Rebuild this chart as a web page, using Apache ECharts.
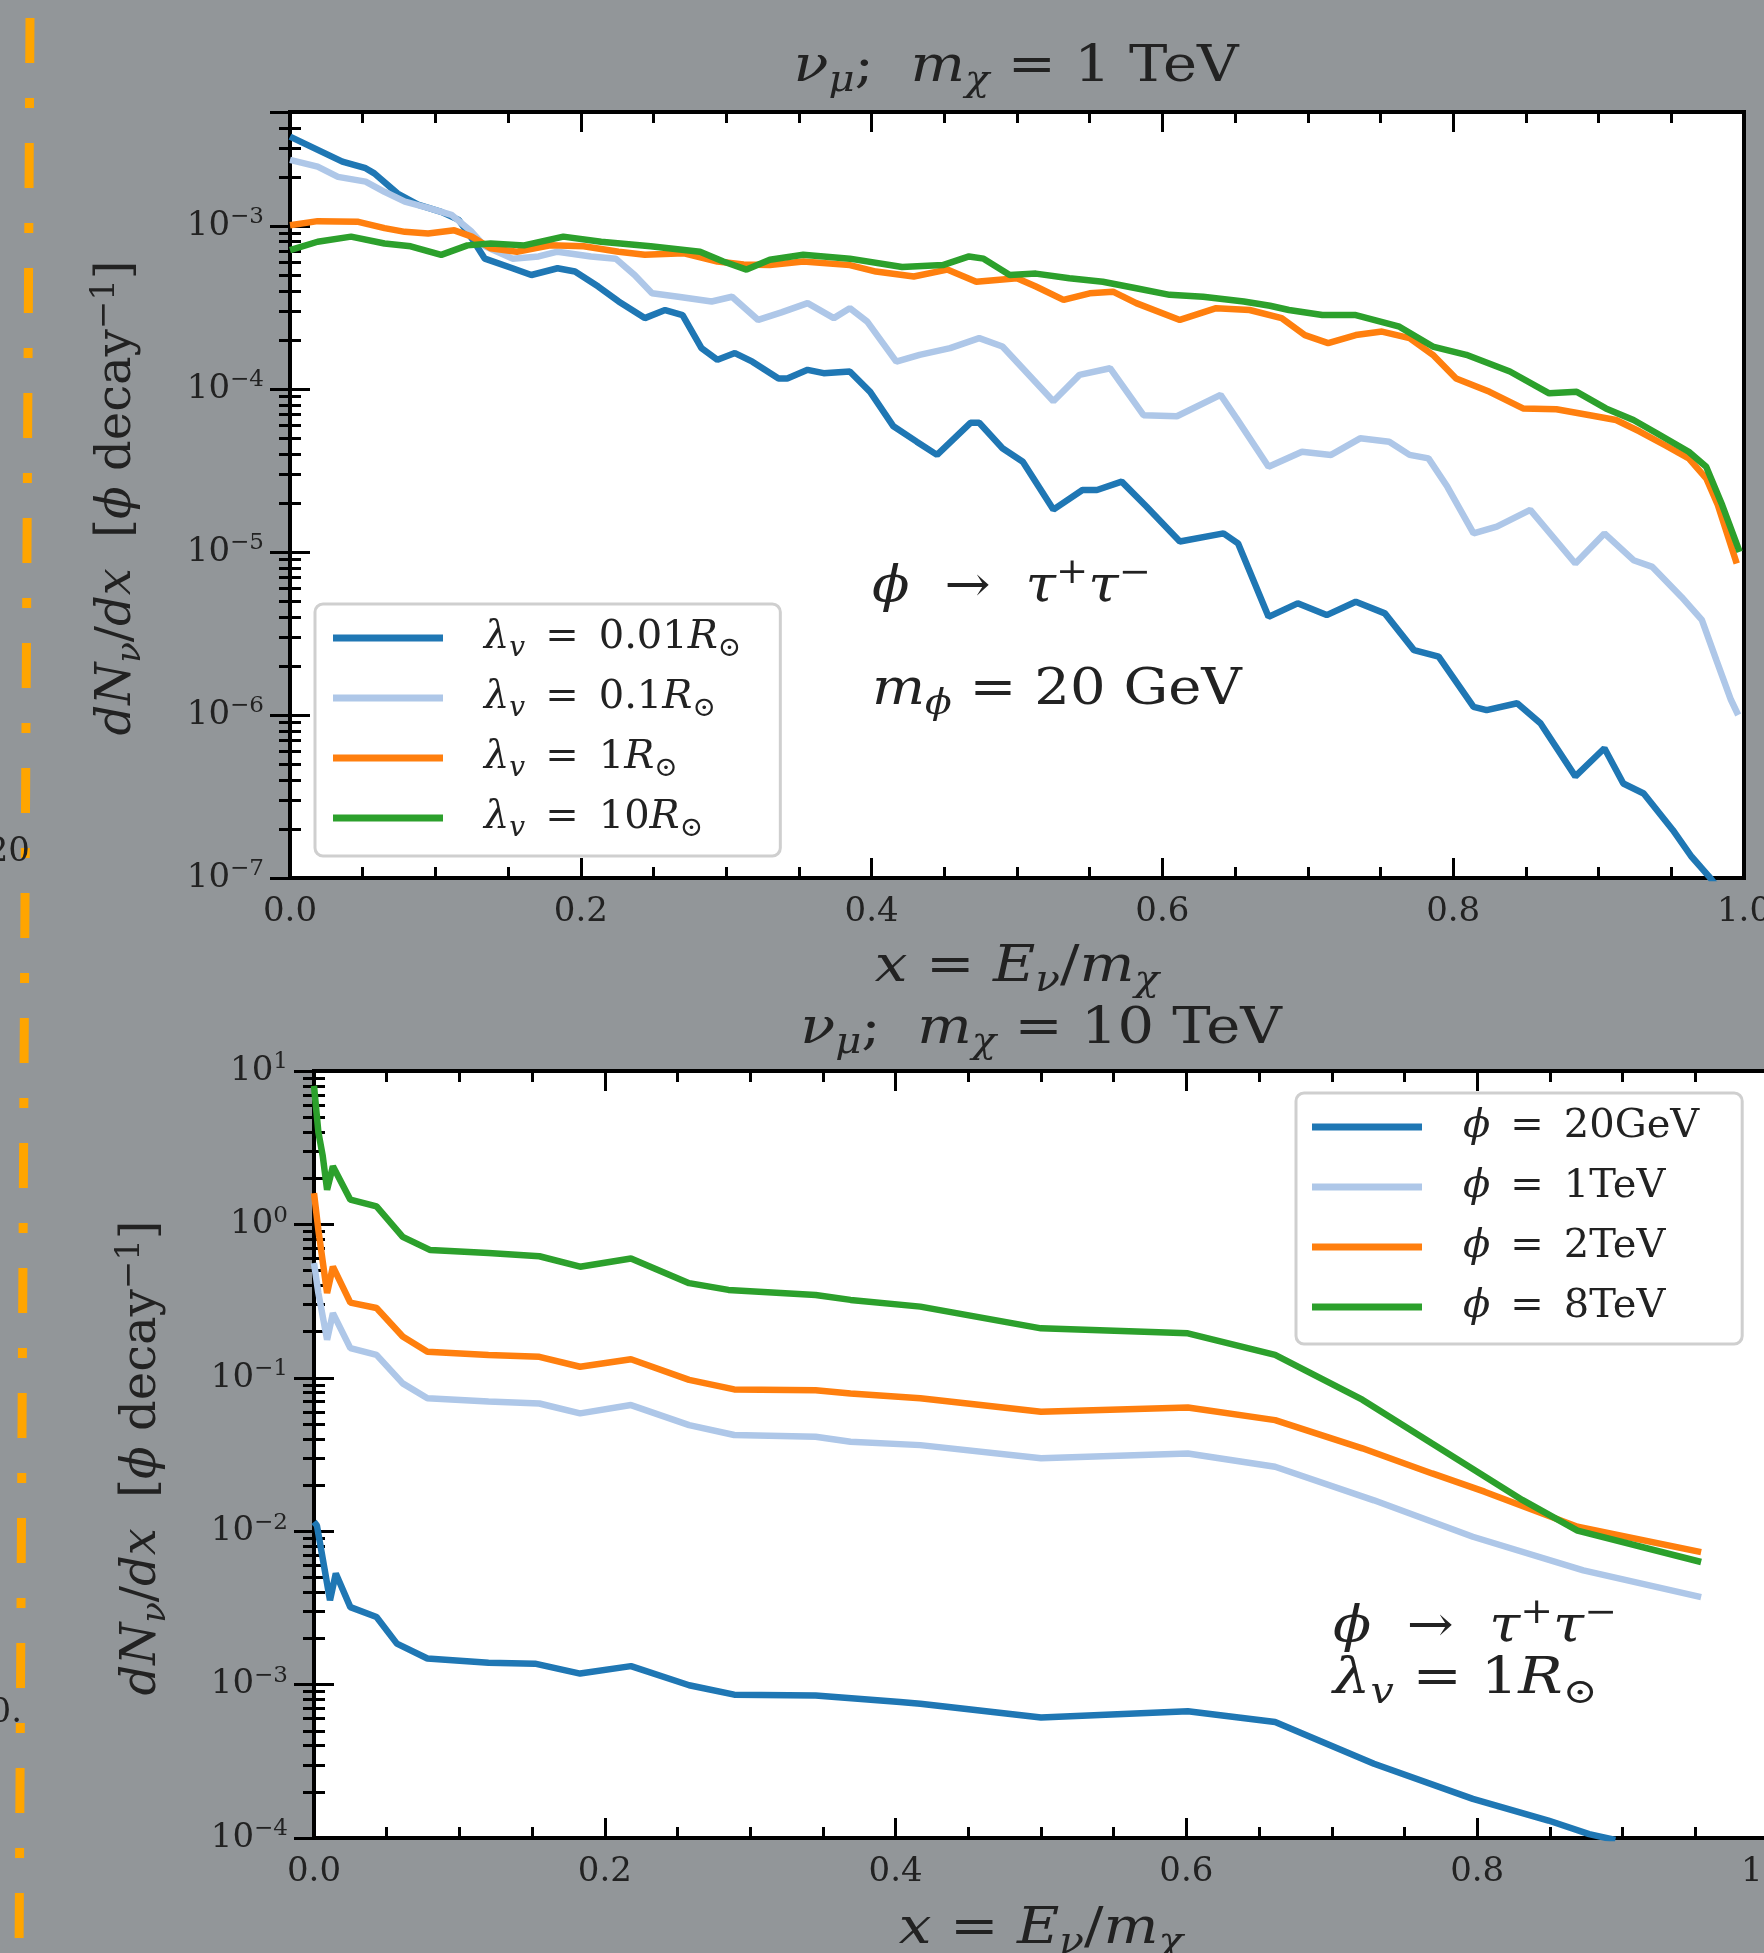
<!DOCTYPE html>
<html>
<head>
<meta charset="utf-8">
<script src="https://cdn.jsdelivr.net/npm/echarts@6.0.0/dist/echarts.min.js"></script>
<style>
  html, body { margin: 0; padding: 0; background: #929699; }
  #myChart { width: 1764px; height: 1953px; }
</style>
</head>
<body>
<div id="myChart"></div>
<script>
// upper panel: m_chi = 1 TeV, one curve per decay length
const xLam001 = [0, 0.036, 0.052, 0.058, 0.074, 0.088, 0.104, 0.116, 0.125, 0.134, 0.153, 0.166, 0.184, 0.196, 0.212, 0.226, 0.244, 0.258, 0.27, 0.283, 0.294, 0.306, 0.318, 0.336, 0.342, 0.356, 0.367, 0.385, 0.399, 0.415, 0.431, 0.445, 0.468, 0.474, 0.49, 0.504, 0.525, 0.545, 0.555, 0.572, 0.589, 0.612, 0.642, 0.652, 0.673, 0.693, 0.713, 0.733, 0.753, 0.773, 0.79, 0.814, 0.823, 0.844, 0.86, 0.884, 0.904, 0.917, 0.931, 0.951, 0.964, 0.976, 0.99]
const yLam001 = [3.53e-3, 2.48e-3, 2.26e-3, 2.1e-3, 1.58e-3, 1.35e-3, 1.22e-3, 1.09e-3, 8.4e-4, 6.3e-4, 5.5e-4, 5.0e-4, 5.5e-4, 5.25e-4, 4.25e-4, 3.44e-4, 2.72e-4, 3.05e-4, 2.84e-4, 1.78e-4, 1.51e-4, 1.66e-4, 1.47e-4, 1.16e-4, 1.16e-4, 1.31e-4, 1.25e-4, 1.28e-4, 9.6e-5, 5.9e-5, 4.75e-5, 3.94e-5, 6.2e-5, 6.2e-5, 4.33e-5, 3.58e-5, 1.82e-5, 2.4e-5, 2.4e-5, 2.7e-5, 1.9e-5, 1.16e-5, 1.3e-5, 1.13e-5, 4.0e-6, 4.84e-6, 4.1e-6, 4.95e-6, 4.2e-6, 2.5e-6, 2.28e-6, 1.12e-6, 1.07e-6, 1.18e-6, 8.9e-7, 4.2e-7, 6.25e-7, 3.8e-7, 3.3e-7, 1.97e-7, 1.35e-7, 1.02e-7, 7.1e-8]

const xLam01 = [0, 0.019, 0.033, 0.052, 0.065, 0.079, 0.095, 0.111, 0.125, 0.134, 0.153, 0.171, 0.184, 0.207, 0.224, 0.237, 0.249, 0.267, 0.29, 0.304, 0.322, 0.338, 0.356, 0.374, 0.385, 0.397, 0.417, 0.433, 0.454, 0.474, 0.49, 0.525, 0.543, 0.564, 0.587, 0.61, 0.64, 0.651, 0.673, 0.696, 0.716, 0.736, 0.756, 0.77, 0.783, 0.796, 0.814, 0.83, 0.853, 0.884, 0.904, 0.924, 0.937, 0.957, 0.971, 0.981, 0.991, 0.996]
const yLam01 = [2.54e-3, 2.31e-3, 2.0e-3, 1.87e-3, 1.62e-3, 1.41e-3, 1.29e-3, 1.17e-3, 9.2e-4, 7.5e-4, 6.3e-4, 6.5e-4, 6.95e-4, 6.5e-4, 6.3e-4, 5.0e-4, 3.86e-4, 3.68e-4, 3.44e-4, 3.68e-4, 2.65e-4, 2.95e-4, 3.36e-4, 2.72e-4, 3.13e-4, 2.59e-4, 1.47e-4, 1.62e-4, 1.78e-4, 2.05e-4, 1.82e-4, 8.4e-5, 1.22e-4, 1.34e-4, 6.9e-5, 6.8e-5, 9.2e-5, 6.6e-5, 3.33e-5, 4.12e-5, 3.94e-5, 4.98e-5, 4.75e-5, 3.94e-5, 3.75e-5, 2.51e-5, 1.3e-5, 1.43e-5, 1.81e-5, 8.5e-6, 1.3e-5, 8.9e-6, 8.1e-6, 5.3e-6, 3.83e-6, 2.17e-6, 1.24e-6, 1.0e-6]

const xLam1 = [0, 0.019, 0.047, 0.065, 0.079, 0.095, 0.113, 0.125, 0.138, 0.156, 0.179, 0.202, 0.226, 0.244, 0.271, 0.294, 0.312, 0.33, 0.353, 0.385, 0.403, 0.429, 0.452, 0.472, 0.5, 0.513, 0.532, 0.55, 0.566, 0.582, 0.612, 0.637, 0.66, 0.682, 0.698, 0.714, 0.733, 0.751, 0.77, 0.786, 0.802, 0.825, 0.848, 0.871, 0.894, 0.912, 0.928, 0.946, 0.962, 0.974, 0.982, 0.995]
const yLam1 = [1.01e-3, 1.07e-3, 1.06e-3, 9.7e-4, 9.2e-4, 9.0e-4, 9.4e-4, 8.6e-4, 7.3e-4, 6.95e-4, 7.6e-4, 7.5e-4, 6.95e-4, 6.65e-4, 6.8e-4, 6.05e-4, 5.8e-4, 5.75e-4, 6.05e-4, 5.75e-4, 5.25e-4, 4.9e-4, 5.4e-4, 4.55e-4, 4.78e-4, 4.25e-4, 3.52e-4, 3.86e-4, 3.95e-4, 3.36e-4, 2.65e-4, 3.13e-4, 3.05e-4, 2.72e-4, 2.14e-4, 1.91e-4, 2.14e-4, 2.25e-4, 2.05e-4, 1.62e-4, 1.16e-4, 9.6e-5, 7.6e-5, 7.5e-5, 6.9e-5, 6.45e-5, 5.5e-5, 4.5e-5, 3.75e-5, 2.83e-5, 1.94e-5, 8.5e-6]

const xLam10 = [0, 0.019, 0.042, 0.065, 0.083, 0.104, 0.122, 0.138, 0.161, 0.188, 0.214, 0.248, 0.282, 0.298, 0.314, 0.33, 0.353, 0.385, 0.421, 0.449, 0.467, 0.477, 0.495, 0.513, 0.536, 0.559, 0.582, 0.605, 0.628, 0.656, 0.674, 0.687, 0.71, 0.733, 0.763, 0.786, 0.809, 0.839, 0.866, 0.885, 0.905, 0.924, 0.94, 0.962, 0.974, 0.985, 0.997]
const yLam10 = [7.1e-4, 8.0e-4, 8.6e-4, 7.8e-4, 7.5e-4, 6.65e-4, 7.6e-4, 7.8e-4, 7.6e-4, 8.6e-4, 8.0e-4, 7.5e-4, 6.95e-4, 6.05e-4, 5.4e-4, 6.2e-4, 6.65e-4, 6.3e-4, 5.6e-4, 5.75e-4, 6.5e-4, 6.3e-4, 5.0e-4, 5.1e-4, 4.78e-4, 4.55e-4, 4.15e-4, 3.78e-4, 3.68e-4, 3.44e-4, 3.24e-4, 3.05e-4, 2.84e-4, 2.84e-4, 2.41e-4, 1.82e-4, 1.62e-4, 1.28e-4, 9.4e-5, 9.6e-5, 7.6e-5, 6.45e-5, 5.35e-5, 4.12e-5, 3.33e-5, 1.94e-5, 1.0e-5]

// lower panel: m_chi = 10 TeV, one curve per mediator mass
const xPhi20 = [0, 0.002, 0.007, 0.011, 0.015, 0.025, 0.043, 0.057, 0.078, 0.12, 0.152, 0.183, 0.218, 0.258, 0.289, 0.345, 0.403, 0.417, 0.5, 0.601, 0.661, 0.729, 0.797, 0.849, 0.877, 0.895]
const yPhi20 = [1.15e-2, 1.09e-2, 5.85e-3, 3.55e-3, 5.3e-3, 3.2e-3, 2.76e-3, 1.85e-3, 1.48e-3, 1.39e-3, 1.37e-3, 1.18e-3, 1.32e-3, 9.9e-4, 8.6e-4, 8.5e-4, 7.7e-4, 7.5e-4, 6.1e-4, 6.7e-4, 5.7e-4, 3.05e-4, 1.8e-4, 1.3e-4, 1.06e-4, 9.7e-5]

const xPhi1 = [0, 0.003, 0.009, 0.013, 0.025, 0.043, 0.061, 0.078, 0.12, 0.155, 0.183, 0.218, 0.258, 0.289, 0.345, 0.369, 0.417, 0.5, 0.601, 0.661, 0.729, 0.797, 0.873, 0.954]
const yPhi1 = [5.6e-1, 3.57e-1, 1.77e-1, 2.64e-1, 1.56e-1, 1.41e-1, 9.2e-2, 7.35e-2, 7.0e-2, 6.8e-2, 5.86e-2, 6.64e-2, 4.92e-2, 4.24e-2, 4.13e-2, 3.83e-2, 3.64e-2, 2.99e-2, 3.21e-2, 2.63e-2, 1.59e-2, 9.2e-3, 5.56e-3, 3.72e-3]

const xPhi2 = [0, 0.003, 0.009, 0.013, 0.025, 0.043, 0.061, 0.078, 0.12, 0.155, 0.183, 0.218, 0.258, 0.289, 0.345, 0.369, 0.417, 0.5, 0.601, 0.661, 0.721, 0.769, 0.805, 0.869, 0.954]
const yPhi2 = [1.6, 9.2e-1, 3.57e-1, 5.3e-1, 3.09e-1, 2.85e-1, 1.86e-1, 1.48e-1, 1.41e-1, 1.37e-1, 1.18e-1, 1.32e-1, 9.7e-2, 8.4e-2, 8.3e-2, 7.9e-2, 7.35e-2, 6.0e-2, 6.4e-2, 5.3e-2, 3.47e-2, 2.38e-2, 1.81e-2, 1.07e-2, 7.3e-3]

const xPhi8 = [0, 0.003, 0.006, 0.009, 0.013, 0.025, 0.043, 0.061, 0.08, 0.12, 0.155, 0.183, 0.218, 0.258, 0.285, 0.345, 0.369, 0.417, 0.5, 0.601, 0.661, 0.721, 0.769, 0.831, 0.869, 0.954]
const yPhi8 = [8.0, 4.0, 2.8, 1.68, 2.39, 1.45, 1.31, 8.3e-1, 6.8e-1, 6.5e-1, 6.2e-1, 5.3e-1, 6.0e-1, 4.14e-1, 3.74e-1, 3.47e-1, 3.22e-1, 2.91e-1, 2.1e-1, 1.95e-1, 1.41e-1, 7.2e-2, 3.73e-2, 1.6e-2, 1.01e-2, 6.3e-3]

const xTicks = [0, 0.2, 0.4, 0.6, 0.8, 1.0]

const FONT = 'DejaVu Serif'
const INK = '#222'
const C_BLUE = '#1f77b4'
const C_LIGHT = '#aec7e8'
const C_ORANGE = '#ff7f0e'
const C_GREEN = '#2ca02c'

function mathRich (fs) {
  const s = Math.round(fs * 0.7)
  const base = { fontFamily: FONT, color: INK, fill: INK }
  return {
    r: Object.assign({}, base, { fontSize: fs, lineHeight: Math.round(fs * 1.25) }),
    i: Object.assign({}, base, { fontSize: fs, lineHeight: Math.round(fs * 1.25), fontStyle: 'italic' }),
    si: Object.assign({}, base, { fontSize: s, lineHeight: s, fontStyle: 'italic', verticalAlign: 'bottom' }),
    sr: Object.assign({}, base, { fontSize: s, lineHeight: s, verticalAlign: 'bottom' }),
    pr: Object.assign({}, base, { fontSize: s, lineHeight: s, verticalAlign: 'top' })
  }
}

const EQ = '\u2002=\u2002'
const legendText = {
  lam001: '{i|λ}{si|v}{r|' + EQ + '0.01}{i|R}{sr|⊙}',
  lam01: '{i|λ}{si|v}{r|' + EQ + '0.1}{i|R}{sr|⊙}',
  lam1: '{i|λ}{si|v}{r|' + EQ + '1}{i|R}{sr|⊙}',
  lam10: '{i|λ}{si|v}{r|' + EQ + '10}{i|R}{sr|⊙}',
  phi20: '{i|ϕ}{r|' + EQ + '20GeV}',
  phi1: '{i|ϕ}{r|' + EQ + '1TeV}',
  phi2: '{i|ϕ}{r|' + EQ + '2TeV}',
  phi8: '{i|ϕ}{r|' + EQ + '8TeV}'
}

function zip (xs, ys) {
  return xs.map((x, k) => [x, ys[k]])
}

function logLabel (v) {
  const e = Math.log10(v)
  const n = Math.round(e)
  if (Math.abs(e - n) > 1e-6) return ''
  return '{b|10}{p|' + (n < 0 ? '−' + (-n) : n) + '}'
}

const tickStyle = { color: '#000', width: 3 }

function xAxisPair (gridIndex) {
  const common = {
    type: 'value', gridIndex, min: 0, max: 1, interval: 0.2,
    axisLine: { show: false },
    splitLine: { show: false },
    axisTick: { inside: true, length: 20, lineStyle: tickStyle },
    minorTick: { show: true, splitNumber: 4, length: 11, lineStyle: tickStyle }
  }
  return [
    Object.assign({}, common, {
      position: 'bottom',
      axisLabel: {
        margin: 17, fontFamily: FONT, fontSize: 34, color: INK,
        formatter: v => xTicks.indexOf(v) >= 0 ? v.toFixed(1) : ''
      }
    }),
    Object.assign({}, common, { position: 'top', axisLabel: { show: false } })
  ]
}

function yAxisPair (gridIndex, min, max) {
  const common = {
    type: 'log', logBase: 10, gridIndex, min, max,
    axisLine: { show: false },
    splitLine: { show: false },
    axisTick: { inside: true, length: 20, lineStyle: tickStyle },
    minorTick: { show: true, splitNumber: 9, length: 11, lineStyle: tickStyle }
  }
  return [
    Object.assign({}, common, {
      position: 'left',
      axisLabel: {
        margin: 26, formatter: logLabel,
        rich: {
          b: { fontFamily: FONT, fontSize: 34, lineHeight: 40, color: INK },
          p: { fontFamily: FONT, fontSize: 23, lineHeight: 23, color: INK, verticalAlign: 'top' }
        }
      }
    }),
    Object.assign({}, common, { position: 'right', axisLabel: { show: false } })
  ]
}

function curve (name, xs, ys, color, axisBase) {
  return {
    name, type: 'line', xAxisIndex: axisBase, yAxisIndex: axisBase,
    data: zip(xs, ys),
    showSymbol: false, symbol: 'none', clip: true, silent: true,
    lineStyle: { color, width: 6.5 },
    itemStyle: { color }
  }
}

function legendBox (names, left, top, gap, pad) {
  return {
    data: names, orient: 'vertical', left, top,
    icon: 'rect', itemWidth: 110, itemHeight: 7, itemGap: gap,
    itemStyle: { borderWidth: 0 },
    selectedMode: false,
    backgroundColor: '#fff', borderColor: '#cfcfcf', borderWidth: 3, borderRadius: 8,
    padding: pad,
    formatter: name => legendText[name],
    textStyle: { padding: [0, 0, 0, 36], lineHeight: 46, rich: mathRich(40) }
  }
}

function gText (x, y, text, fs, extra, align) {
  return Object.assign({
    type: 'text', x, y, silent: true,
    style: {
      text, rich: mathRich(fs), fontFamily: FONT, fontSize: fs, fill: INK,
      align: align || 'center', verticalAlign: 'middle'
    }
  }, extra || {})
}

const yName = '{i|dN}{si|ν}{r|/}{i|dx}{r|  [}{i|ϕ}{r| decay}{pr|−1}{r|]}'
const xName = '{i|x}{r| = }{i|E}{si|ν}{r|/}{i|m}{si|χ}'
const decay = '{i|ϕ}{r|  →  }{i|τ}{pr|+}{i|τ}{pr|−}'

let myChart = echarts.init(document.getElementById('myChart'))

myChart.setOption({
  animation: false,
  backgroundColor: '#929699',
  grid: [
    { left: 290, top: 112, width: 1454, height: 766, outerBoundsMode: 'none', containLabel: false,
      show: true, backgroundColor: '#fff', borderColor: '#000', borderWidth: 4 },
    { left: 314, top: 1071, width: 1454, height: 767, outerBoundsMode: 'none', containLabel: false,
      show: true, backgroundColor: '#fff', borderColor: '#000', borderWidth: 4 }
  ],
  xAxis: xAxisPair(0).concat(xAxisPair(1)),
  yAxis: yAxisPair(0, 1e-7, 5e-3).concat(yAxisPair(1, 1e-4, 10)),
  legend: [
    legendBox(['lam001', 'lam01', 'lam1', 'lam10'], 315, 604, 10, [9, 39, 13, 18]),
    legendBox(['phi20', 'phi1', 'phi2', 'phi8'], 1296, 1093, 10, [9, 43, 12, 16])
  ],
  series: [
    curve('lam001', xLam001, yLam001, C_BLUE, 0),
    curve('lam01', xLam01, yLam01, C_LIGHT, 0),
    curve('lam1', xLam1, yLam1, C_ORANGE, 0),
    curve('lam10', xLam10, yLam10, C_GREEN, 0),
    curve('phi20', xPhi20, yPhi20, C_BLUE, 2),
    curve('phi1', xPhi1, yPhi1, C_LIGHT, 2),
    curve('phi2', xPhi2, yPhi2, C_ORANGE, 2),
    curve('phi8', xPhi8, yPhi8, C_GREEN, 2)
  ],
  graphic: [
    // page furniture left of the figure
    { type: 'line', silent: true, shape: { x1: 30, y1: 18, x2: 19, y2: 1960 },
      style: { stroke: '#ffa500', lineWidth: 9, lineDash: [45, 35, 10, 35] } },
    { type: 'text', x: 30, y: 852, silent: true, style: { text: '20', fontFamily: FONT, fontSize: 34, fill: INK, align: 'right', verticalAlign: 'middle' } },
    { type: 'text', x: 22, y: 1713, silent: true, style: { text: '0.', fontFamily: FONT, fontSize: 34, fill: INK, align: 'right', verticalAlign: 'middle' } },

    gText(1016, 68, '{i|ν}{si|μ}{r|;  }{i|m}{si|χ}{r| = 1 TeV}', 50, { scaleX: 1.15 }),
    gText(1017, 968, xName, 50, { scaleX: 1.16 }),
    gText(118, 498, yName, 48, { rotation: Math.PI / 2 }),
    gText(872, 588, decay, 50, { scaleX: 1.1 }, 'left'),
    gText(872, 691, '{i|m}{si|ϕ}{r| = 20 GeV}', 50, { scaleX: 1.12 }, 'left'),

    gText(1041, 1030, '{i|ν}{si|μ}{r|;  }{i|m}{si|χ}{r| = 10 TeV}', 50, { scaleX: 1.15 }),
    gText(1041, 1930, xName, 50, { scaleX: 1.16 }),
    gText(143, 1458, yName, 48, { rotation: Math.PI / 2 }),
    gText(1333, 1628, decay, 50, { scaleX: 1.12 }, 'left'),
    gText(1333, 1680, '{i|λ}{si|v}{r| = 1}{i|R}{sr|⊙}', 50, { scaleX: 1.18 }, 'left')
  ]
})
</script>
</body>
</html>
